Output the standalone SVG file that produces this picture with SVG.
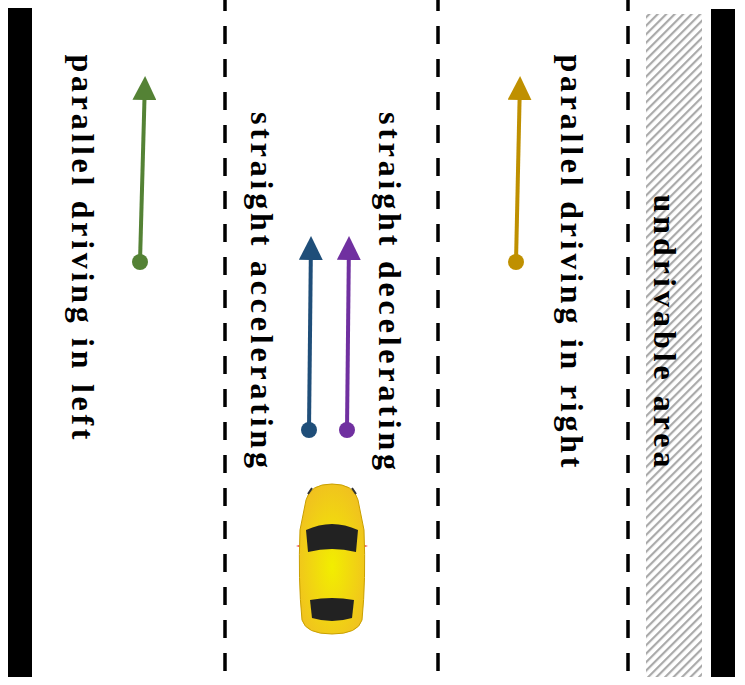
<svg xmlns="http://www.w3.org/2000/svg" width="745" height="685" viewBox="0 0 745 685">
<defs>
<pattern id="hatch" width="6" height="6" patternUnits="userSpaceOnUse" patternTransform="rotate(-45)">
<rect width="6" height="6" fill="#fff"/><rect width="6" height="2.2" fill="#aaa"/>
</pattern>
<radialGradient id="body" cx="0.5" cy="0.55" r="0.6"><stop offset="0" stop-color="#f2ee00"/><stop offset="1" stop-color="#f0c020"/></radialGradient>
<marker id="ag" markerWidth="6" markerHeight="6" refX="5" refY="3" orient="auto" markerUnits="strokeWidth"><path d="M0,0L6,3L0,6Z" fill="#548235"/></marker>
<marker id="ab" markerWidth="6" markerHeight="6" refX="5" refY="3" orient="auto" markerUnits="strokeWidth"><path d="M0,0L6,3L0,6Z" fill="#1f4e79"/></marker>
<marker id="ap" markerWidth="6" markerHeight="6" refX="5" refY="3" orient="auto" markerUnits="strokeWidth"><path d="M0,0L6,3L0,6Z" fill="#7030a0"/></marker>
<marker id="ao" markerWidth="6" markerHeight="6" refX="5" refY="3" orient="auto" markerUnits="strokeWidth"><path d="M0,0L6,3L0,6Z" fill="#bf9000"/></marker>
</defs>
<style>
.lbl{font-family:"Liberation Serif",serif;font-weight:bold;font-size:32px;fill:#000;text-anchor:middle;dominant-baseline:central}
.dash{stroke:#000;stroke-width:3.5;stroke-dasharray:18 15;fill:none}
.arr{stroke-width:4;fill:none}
</style>
<rect width="745" height="685" fill="#fff"/>
<g id="road">
<rect x="8" y="8" width="24" height="669" fill="#000"/>
<rect x="711" y="9" width="24" height="668" fill="#000"/>
<rect x="646" y="14" width="56" height="663" fill="url(#hatch)"/>
<line class="dash" x1="225" y1="-7" x2="225" y2="677"/>
<line class="dash" x1="438" y1="-7" x2="438" y2="677"/>
<line class="dash" x1="628" y1="-7" x2="628" y2="677"/>
</g>
<g id="labels">
<text class="lbl" transform="translate(83,247) rotate(90)" textLength="385">parallel driving in left</text>
<text class="lbl" transform="translate(262,290) rotate(90)" textLength="356">straight accelerating</text>
<text class="lbl" transform="translate(390,291) rotate(90)" textLength="358">straight decelerating</text>
<text class="lbl" transform="translate(572,261) rotate(90)" textLength="413">parallel driving in right</text>
<text class="lbl" transform="translate(665,331) rotate(90)" textLength="273">undrivable area</text>
</g>
<g id="connectors">
<line class="arr" stroke="#548235" x1="140" y1="262" x2="145" y2="80" marker-end="url(#ag)"/><circle cx="140" cy="262" r="8" fill="#548235"/>
<line class="arr" stroke="#1f4e79" x1="309" y1="430" x2="311" y2="240" marker-end="url(#ab)"/><circle cx="309" cy="430" r="8" fill="#1f4e79"/>
<line class="arr" stroke="#7030a0" x1="347" y1="430" x2="349" y2="240" marker-end="url(#ap)"/><circle cx="347" cy="430" r="8" fill="#7030a0"/>
<line class="arr" stroke="#bf9000" x1="516" y1="262" x2="520" y2="80" marker-end="url(#ao)"/><circle cx="516" cy="262" r="8" fill="#bf9000"/>
</g>
<g id="car">
<path d="M296,546 l8,-2 v4z M368,546 l-8,-2 v4z" fill="#e02020"/>
<path d="M306,500 Q310,484 332,484 Q354,484 358,500 L364,530 Q366,580 362,620 Q358,634 332,634 Q306,634 302,620 Q298,580 300,530Z" fill="url(#body)" stroke="#c9a000" stroke-width="1"/>
<path d="M306,530 Q332,518 358,530 L356,552 Q332,546 308,552Z" fill="#222"/>
<path d="M310,600 Q332,596 354,600 L352,618 Q332,624 312,618Z" fill="#222"/>
<path d="M312,488 l-4,6 M352,488 l4,6" stroke="#333" stroke-width="2"/>
</g>
</svg>
